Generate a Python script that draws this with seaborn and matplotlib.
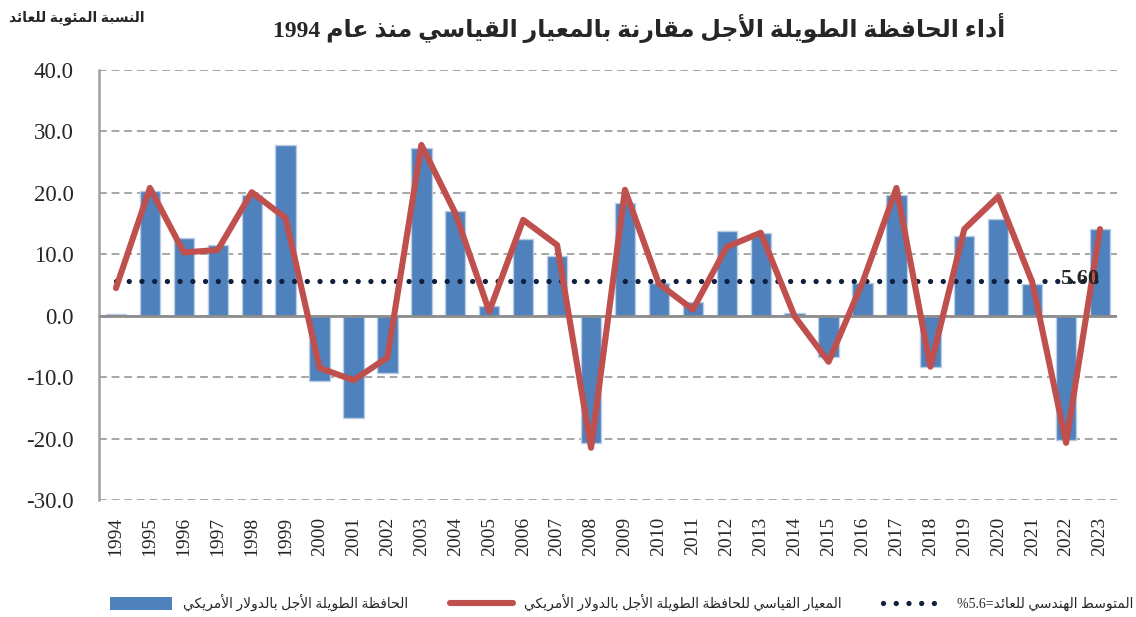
import re
import matplotlib
matplotlib.use("Agg")

import matplotlib.pyplot as plt
import seaborn as sns
import numpy as np
from matplotlib.lines import Line2D
from matplotlib.patches import Patch

# --- data ---
years = [str(y) for y in range(1994, 2024)]
portfolio = [0.3, 20.3, 12.7, 11.5, 19.7, 27.8, -10.7, -16.7, -9.3, 27.3,
             17.1, 1.5, 12.5, 9.8, -20.8, 18.4, 5.4, 2.2, 13.8, 13.5,
             0.5, -6.7, 5.4, 19.6, -8.3, 12.9, 15.8, 5.2, -20.3, 14.1]
benchmark = [4.5, 20.8, 10.3, 10.7, 20.1, 15.9, -8.5, -10.5, -6.8, 27.8,
             16.7, 0.7, 15.6, 11.5, -21.5, 20.5, 5.2, 1.0, 11.2, 13.5,
             -0.1, -7.5, 5.4, 20.8, -8.3, 14.1, 19.4, 5.5, -20.7, 14.1]
geo_mean = 5.6

title_txt = "أداء الحافظة الطويلة الأجل مقارنة بالمعيار القياسي منذ عام 1994"
ylabel_txt = "النسبة المئوية للعائد"
lbl_portfolio = "الحافظة الطويلة الأجل بالدولار الأمريكي"
lbl_benchmark = "المعيار القياسي للحافظة الطويلة الأجل بالدولار الأمريكي"
lbl_mean = "المتوسط الهندسي للعائد=5.6%"

# --- minimal arabic shaping (matplotlib has no shaping engine) ---
FORMS = {
    'ء': (0xFE80,),
    'آ': (0xFE81, 0xFE82), 'أ': (0xFE83, 0xFE84), 'ؤ': (0xFE85, 0xFE86),
    'إ': (0xFE87, 0xFE88), 'ئ': (0xFE89, 0xFE8A, 0xFE8B, 0xFE8C),
    'ا': (0xFE8D, 0xFE8E), 'ب': (0xFE8F, 0xFE90, 0xFE91, 0xFE92),
    'ة': (0xFE93, 0xFE94), 'ت': (0xFE95, 0xFE96, 0xFE97, 0xFE98),
    'ث': (0xFE99, 0xFE9A, 0xFE9B, 0xFE9C), 'ج': (0xFE9D, 0xFE9E, 0xFE9F, 0xFEA0),
    'ح': (0xFEA1, 0xFEA2, 0xFEA3, 0xFEA4), 'خ': (0xFEA5, 0xFEA6, 0xFEA7, 0xFEA8),
    'د': (0xFEA9, 0xFEAA), 'ذ': (0xFEAB, 0xFEAC), 'ر': (0xFEAD, 0xFEAE),
    'ز': (0xFEAF, 0xFEB0), 'س': (0xFEB1, 0xFEB2, 0xFEB3, 0xFEB4),
    'ش': (0xFEB5, 0xFEB6, 0xFEB7, 0xFEB8), 'ص': (0xFEB9, 0xFEBA, 0xFEBB, 0xFEBC),
    'ض': (0xFEBD, 0xFEBE, 0xFEBF, 0xFEC0), 'ط': (0xFEC1, 0xFEC2, 0xFEC3, 0xFEC4),
    'ظ': (0xFEC5, 0xFEC6, 0xFEC7, 0xFEC8), 'ع': (0xFEC9, 0xFECA, 0xFECB, 0xFECC),
    'غ': (0xFECD, 0xFECE, 0xFECF, 0xFED0), 'ف': (0xFED1, 0xFED2, 0xFED3, 0xFED4),
    'ق': (0xFED5, 0xFED6, 0xFED7, 0xFED8), 'ك': (0xFED9, 0xFEDA, 0xFEDB, 0xFEDC),
    'ل': (0xFEDD, 0xFEDE, 0xFEDF, 0xFEE0), 'م': (0xFEE1, 0xFEE2, 0xFEE3, 0xFEE4),
    'ن': (0xFEE5, 0xFEE6, 0xFEE7, 0xFEE8), 'ه': (0xFEE9, 0xFEEA, 0xFEEB, 0xFEEC),
    'و': (0xFEED, 0xFEEE), 'ى': (0xFEEF, 0xFEF0),
    'ي': (0xFEF1, 0xFEF2, 0xFEF3, 0xFEF4),
}
LAM_ALEF = {'آ': (0xFEF5, 0xFEF6), 'أ': (0xFEF7, 0xFEF8),
            'إ': (0xFEF9, 0xFEFA), 'ا': (0xFEFB, 0xFEFC)}


def ar(text):
    units = []
    i = 0
    while i < len(text):
        c = text[i]
        if c == 'ل' and i + 1 < len(text) and text[i + 1] in LAM_ALEF:
            units.append(('LA', text[i + 1]))
            i += 2
        else:
            units.append(c)
            i += 1
    out = []
    for k, u in enumerate(units):
        prev = units[k - 1] if k > 0 else None
        nxt = units[k + 1] if k + 1 < len(units) else None
        conn_prev = isinstance(prev, str) and prev in FORMS and len(FORMS[prev]) == 4
        if isinstance(u, tuple):
            iso, fin = LAM_ALEF[u[1]]
            out.append(chr(fin if conn_prev else iso))
            continue
        if u not in FORMS:
            out.append(u)
            continue
        f = FORMS[u]
        conn_next = len(f) == 4 and nxt is not None and (
            isinstance(nxt, tuple) or (nxt in FORMS and len(FORMS[nxt]) > 1))
        if len(f) == 1:
            out.append(chr(f[0]))
        elif conn_prev and conn_next:
            out.append(chr(f[3]))
        elif conn_prev:
            out.append(chr(f[1]))
        elif conn_next:
            out.append(chr(f[2]))
        else:
            out.append(chr(f[0]))
    vis = ''.join(out)[::-1]
    return re.sub(r'[0-9.]+', lambda m: m.group(0)[::-1], vis)


SERIF = ['Liberation Serif', 'DejaVu Sans']
BLUE = '#4F81BD'
RED = '#C0504D'
NAVY = '#0F1F3D'
GRID = '#A6A6A6'

sns.set_style("white")
plt.rcParams['font.family'] = SERIF

fig = plt.figure(figsize=(11.36, 6.17), dpi=100)
ax = fig.add_axes([99 / 1136, 1 - 500 / 617, (1117 - 99) / 1136, 430 / 617])

x = np.arange(len(years))

sns.barplot(x=years, y=portfolio, ax=ax, color=BLUE, saturation=1,
            width=0.6, edgecolor='#B9CDE5', linewidth=1, zorder=3)
sns.lineplot(x=x, y=benchmark, ax=ax, color=RED, linewidth=4.4,
             solid_capstyle='round', solid_joinstyle='round', zorder=5)
ax.hlines(geo_mean, x[0], x[-1], colors=NAVY, linewidth=3.8,
          linestyles=(0, (0.01, 2.4)), capstyle='round', zorder=4)
ax.text(x[-1] - 0.6, geo_mean - 0.4, f"{geo_mean:.2f}", ha='center',
        va='baseline', fontsize=16, fontweight='bold', family=SERIF, zorder=6)

ax.set_xlim(-0.5, len(years) - 0.5)
ax.set_ylim(-30, 40)
ax.set_yticks(np.arange(-30, 41, 10))
ax.set_yticklabels([f"{v:.1f}" for v in np.arange(-30, 41, 10)])
ax.set_xticks(x)
ax.set_xticklabels(years, rotation=90)
ax.tick_params(axis='y', length=0, pad=18, labelsize=16.5)
ax.tick_params(axis='x', length=0, pad=12, labelsize=14)
ax.set_xlabel("")
ax.set_ylabel("")

ax.yaxis.grid(True, color=GRID, linestyle=(0, (4, 2.5)), linewidth=1.4, zorder=0)
ax.set_axisbelow(True)
ax.axhline(0, color='#8C8C8C', linewidth=2, zorder=4)
for s in ['top', 'right', 'bottom']:
    ax.spines[s].set_visible(False)
ax.spines['left'].set_color('#A0A0A0')
ax.spines['left'].set_linewidth(1.8)

fig.text(0.5625, 0.955, ar(title_txt), ha='center', va='center',
         fontsize=17, fontweight='bold', family=SERIF)
fig.text(145 / 1136, 0.972, ar(ylabel_txt), ha='right', va='center',
         fontsize=10, fontweight='bold', family=SERIF)

handles = [
    Patch(facecolor=BLUE, edgecolor='none'),
    Line2D([], [], color=RED, linewidth=4.4, solid_capstyle='round'),
    Line2D([], [], color=NAVY, linewidth=3.8, linestyle=(0, (0.01, 2.4)),
           dash_capstyle='round'),
]
labels = [ar(lbl_portfolio), ar(lbl_benchmark), ar(lbl_mean)]
fig.legend(handles, labels, loc='center', bbox_to_anchor=(0.547, 0.023),
           ncol=3, frameon=False, fontsize=10, handlelength=4.5,
           handleheight=1.0, handletextpad=0.8, columnspacing=3.0)

fig.savefig("out.png", dpi=100)
